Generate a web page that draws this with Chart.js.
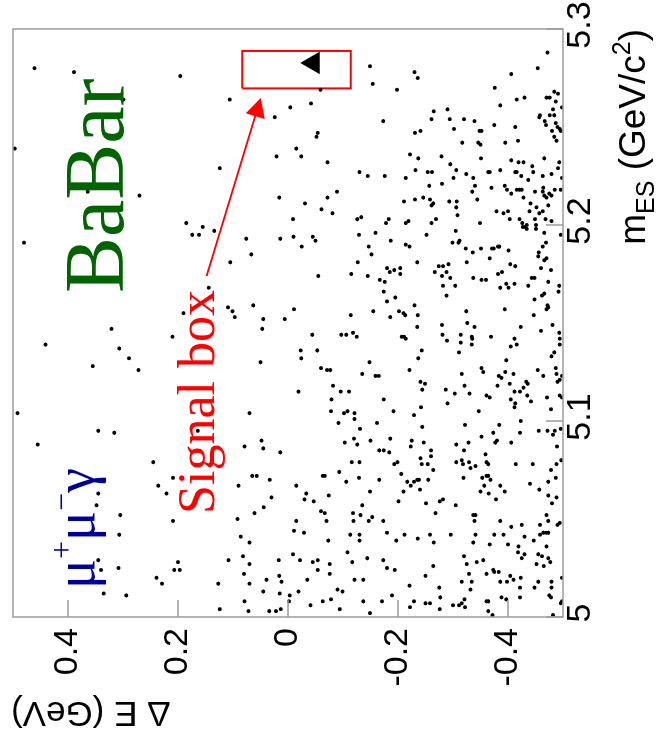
<!DOCTYPE html>
<html>
<head>
<meta charset="utf-8">
<script src="https://cdn.jsdelivr.net/npm/chart.js@4.4.0/dist/chart.umd.min.js"></script>
<style>
  html, body { margin: 0; padding: 0; background: #fff; }
  #page { position: relative; width: 663px; height: 740px; overflow: hidden; background: #fff; }
  /* the plot is drawn upright (m_ES along x) and then turned a quarter left, like the paper figure */
  #turn { position: absolute; left: 0; top: 0; width: 740px; height: 663px;
          transform-origin: 0 0; transform: translate(0, 740px) rotate(-90deg); }
</style>
</head>
<body>
<div id="page"><div id="turn"><canvas id="plot" width="740" height="663"></canvas></div></div>
<script>
// axis ticks
const mesTicks = [5, 5.1, 5.2, 5.3];
const mesLabels = ['5', '5.1', '5.2', '5.3'];
const dETicks = [-0.4, -0.2, 0, 0.2, 0.4];
const dELabels = ['-0.4', '-0.2', '0', '0.2', '0.4'];

// events [m_ES (GeV/c2), Delta E (GeV)]
const evTopLeft = [[5.280,0.461],[5.278,0.389],[5.276,0.196],[5.264,0.299],[5.239,0.497],[5.217,0.364],
  [5.215,0.270],[5.191,0.480],[5.201,0.185],[5.195,0.174],[5.195,0.162],[5.199,0.155]];
const evLowLeft = [[5.155,0.190],[5.147,0.321],[5.143,0.210],[5.139,0.441],[5.137,0.307],[5.132,0.289],
  [5.128,0.355],[5.126,0.272],[5.104,0.492],[5.095,0.345],[5.094,0.316],[5.095,0.164],[5.088,0.455],
  [5.079,0.245],[5.071,0.209],[5.067,0.236],[5.063,0.345],[5.063,0.221],[5.057,0.348],[5.052,0.305],
  [5.049,0.209],[5.042,0.307],[5.029,0.345],[5.024,0.340],[5.025,0.308],[5.028,0.200],[5.024,0.207],
  [5.024,0.197],[5.020,0.239],[5.017,0.229],[5.012,0.335],[5.011,0.294]];
const evTopMid = [[5.281,-0.149],[5.272,-0.154],[5.269,-0.059],[5.264,0.106],[5.260,-0.004],[5.262,-0.042],
  [5.255,0.024],[5.253,-0.173],[5.247,-0.054],[5.245,-0.052],[5.239,-0.015],[5.235,0.021],[5.235,-0.024]];
const evUpperMid = [[5.229,0.124],[5.232,-0.072],[5.227,-0.130],[5.225,-0.145],[5.225,-0.176],[5.214,0.016],
  [5.211,-0.031],[5.214,-0.072],[5.217,-0.089],[5.208,-0.061],[5.206,-0.081],[5.203,-0.009],[5.203,-0.126],
  [5.204,-0.133],[5.201,-0.178],[5.197,0.134],[5.193,0.076],[5.193,0.014],[5.194,-0.010],[5.194,-0.045],
  [5.192,-0.050],[5.189,-0.025],[5.195,-0.129],[5.196,-0.159],[5.189,-0.147],[5.185,-0.152],[5.185,0.067],
  [5.181,0.105],[5.181,-0.127],[5.178,-0.180],[5.175,-0.115],[5.174,-0.055],[5.174,-0.145],[5.172,-0.167],
  [5.171,-0.176],[5.166,-0.174],[5.168,0.144],[5.158,0.109],[5.156,0.101],[5.159,0.063],[5.157,-0.011],
  [5.156,-0.155],[5.161,-0.180]];
const evLowerMid = [[5.153,0.097],[5.152,0.045],[5.152,0.006],[5.147,0.047],[5.154,-0.114],[5.144,-0.044],
  [5.144,-0.097],[5.144,-0.106],[5.145,-0.118],[5.143,-0.125],[5.136,-0.023],[5.136,-0.053],[5.132,-0.024],
  [5.130,0.050],[5.130,-0.148],[5.124,-0.135],[5.123,-0.159],[5.123,-0.165],[5.127,-0.060],[5.126,-0.071],
  [5.126,-0.077],[5.118,-0.082],[5.115,-0.096],[5.115,-0.111],[5.115,-0.019],[5.111,-0.079],[5.111,-0.174],
  [5.104,0.070],[5.105,-0.078],[5.104,-0.102],[5.105,-0.108],[5.104,-0.121],[5.101,-0.121],[5.099,-0.092],
  [5.099,-0.162],[5.096,-0.131],[5.091,-0.120],[5.090,-0.150],[5.089,-0.103],[5.088,-0.126],[5.090,0.048],
  [5.086,0.045],[5.087,0.079],[5.084,0.014],[5.085,-0.166],[5.085,-0.174],[5.079,-0.116],[5.079,-0.130]];
const evBottomMid = [[5.072,0.065],[5.072,0.057],[5.070,0.033],[5.067,0.090],[5.067,-0.015],[5.072,-0.063],
  [5.072,-0.067],[5.074,-0.093],[5.069,-0.106],[5.071,-0.129],[5.070,-0.166],[5.064,-0.149],[5.063,-0.033],
  [5.060,-0.030],[5.062,-0.074],[5.059,-0.047],[5.061,0.030],[5.056,0.044],[5.053,0.061],[5.054,-0.060],
  [5.053,-0.067],[5.049,-0.070],[5.053,-0.118],[5.052,-0.132],[5.057,-0.135],[5.051,-0.153],[5.049,-0.147],
  [5.049,-0.119],[5.049,-0.173],[5.050,0.092],[5.049,-0.015],[5.044,-0.011],[5.043,-0.029],[5.041,0.086],
  [5.038,0.070],[5.042,-0.113],[5.042,-0.130],[5.039,-0.130],[5.043,-0.180],[5.039,-0.073],[5.033,-0.108],
  [5.032,-0.009],[5.029,-0.022],[5.028,-0.045],[5.029,-0.054],[5.024,-0.054],[5.027,-0.076],[5.028,-0.117],
  [5.030,-0.144],[5.029,-0.173],[5.025,-0.180],[5.029,0.108],[5.031,0.082],[5.027,0.070],[5.029,0.017],
  [5.022,0.080],[5.017,0.070],[5.017,0.127],[5.019,0.039],[5.021,0.016],[5.018,0.012],[5.019,-0.035],
  [5.022,-0.076],[5.019,-0.121],[5.019,-0.137],[5.013,0.045],[5.012,0.015],[5.011,-0.003],[5.013,-0.019],
  [5.014,-0.090],[5.013,-0.099],[5.008,0.079],[5.008,-0.002],[5.008,-0.063],[5.009,-0.078],[5.008,-0.137],
  [5.008,-0.171],[5.004,0.124],[5.003,0.072],[5.003,0.034],[5.003,0.022],[5.004,0.013],[5.006,-0.041],
  [5.004,-0.094],[5.002,-0.149]];
const evTopRight = [[5.288,-0.472],[5.280,-0.454],[5.277,-0.406],[5.278,-0.230],[5.275,-0.236],[5.269,-0.198],
  [5.270,-0.376],[5.265,-0.430],[5.264,-0.416],[5.261,-0.386],[5.265,-0.470],[5.265,-0.476],[5.268,-0.484],
  [5.267,-0.491],[5.263,-0.487],[5.260,-0.498],[5.259,-0.482],[5.256,-0.458],[5.255,-0.457],[5.256,-0.476],
  [5.256,-0.484],[5.253,-0.467],[5.251,-0.469],[5.252,-0.487],[5.250,-0.490],[5.249,-0.494],[5.248,-0.496],
  [5.248,-0.480],[5.245,-0.484],[5.243,-0.488],[5.258,-0.265],[5.259,-0.290],[5.254,-0.261],[5.254,-0.294],
  [5.254,-0.320],[5.253,-0.339],[5.249,-0.302],[5.248,-0.241],[5.247,-0.231],[5.248,-0.348],[5.248,-0.352],
  [5.251,-0.375],[5.250,-0.413],[5.242,-0.317],[5.242,-0.346],[5.241,-0.350],[5.242,-0.395],[5.243,-0.418],
  [5.236,-0.222],[5.234,-0.237],[5.235,-0.279],[5.234,-0.351],[5.234,-0.466]];
const evUpperRight = [[5.224,-0.214],[5.228,-0.232],[5.227,-0.254],[5.227,-0.262],[5.231,-0.295],[5.228,-0.306],
  [5.226,-0.324],[5.224,-0.301],[5.224,-0.337],[5.227,-0.364],[5.227,-0.367],[5.228,-0.386],[5.233,-0.406],
  [5.232,-0.419],[5.232,-0.428],[5.227,-0.413],[5.227,-0.416],[5.225,-0.424],[5.223,-0.437],[5.230,-0.444],
  [5.227,-0.446],[5.225,-0.463],[5.226,-0.479],[5.229,-0.491],[5.232,-0.493],[5.224,-0.498],[5.220,-0.257],
  [5.221,-0.280],[5.220,-0.340],[5.217,-0.335],[5.219,-0.370],[5.220,-0.394],[5.218,-0.398],[5.216,-0.406],
  [5.218,-0.416],[5.218,-0.421],[5.218,-0.425],[5.214,-0.428],[5.217,-0.449],[5.219,-0.464],[5.217,-0.463],
  [5.215,-0.466],[5.214,-0.470],[5.216,-0.475],[5.215,-0.479],[5.218,-0.485],[5.218,-0.496],[5.212,-0.211],
  [5.213,-0.231],[5.214,-0.246],[5.213,-0.258],[5.212,-0.293],[5.212,-0.307],[5.209,-0.306],[5.210,-0.261],
  [5.211,-0.264],[5.205,-0.308],[5.213,-0.344],[5.207,-0.379],[5.206,-0.392],[5.207,-0.400],[5.203,-0.403],
  [5.203,-0.421],[5.211,-0.441],[5.209,-0.452],[5.207,-0.463],[5.206,-0.457],[5.210,-0.473],[5.207,-0.439],
  [5.203,-0.449],[5.203,-0.468],[5.202,-0.479],[5.203,-0.183],[5.201,-0.214],[5.202,-0.219],[5.201,-0.261],
  [5.203,-0.269],[5.201,-0.349],[5.201,-0.426],[5.199,-0.431],[5.200,-0.434],[5.198,-0.434],[5.199,-0.427],
  [5.200,-0.451],[5.198,-0.451],[5.196,-0.466],[5.195,-0.496],[5.197,-0.305],[5.192,-0.187],[5.195,-0.252],
  [5.190,-0.214],[5.189,-0.221],[5.191,-0.299],[5.191,-0.310],[5.192,-0.312],[5.188,-0.323],[5.186,-0.336],
  [5.188,-0.351],[5.188,-0.371],[5.188,-0.374],[5.189,-0.382],[5.189,-0.384],[5.187,-0.401],[5.183,-0.367],
  [5.181,-0.325],[5.191,-0.469],[5.189,-0.463],[5.186,-0.456],[5.184,-0.455],[5.182,-0.466],[5.183,-0.470],
  [5.181,-0.235],[5.176,-0.185],[5.177,-0.193],[5.178,-0.204],[5.175,-0.204],[5.176,-0.267],[5.179,-0.274],
  [5.179,-0.282],[5.180,-0.292],[5.174,-0.280],[5.176,-0.288],[5.173,-0.295],[5.173,-0.337],[5.172,-0.352],
  [5.172,-0.360],[5.175,-0.382],[5.176,-0.389],[5.180,-0.404],[5.179,-0.413],[5.178,-0.460],[5.177,-0.478],
  [5.173,-0.443],[5.173,-0.448],[5.171,-0.473],[5.169,-0.493],[5.169,-0.282],[5.169,-0.304],[5.168,-0.386],
  [5.170,-0.397],[5.168,-0.401],[5.170,-0.412],[5.169,-0.437],[5.163,-0.195],[5.164,-0.288],[5.164,-0.462],
  [5.165,-0.466],[5.162,-0.448],[5.166,-0.492],[5.159,-0.472],[5.158,-0.473],[5.157,-0.470],[5.159,-0.230],
  [5.156,-0.202],[5.156,-0.324],[5.157,-0.394]];
const evLowerRight = [[5.153,-0.186],[5.155,-0.210],[5.154,-0.213],[5.154,-0.236],[5.148,-0.235],[5.143,-0.207],
  [5.143,-0.211],[5.142,-0.214],[5.149,-0.280],[5.144,-0.281],[5.141,-0.289],[5.144,-0.314],[5.140,-0.314],
  [5.150,-0.326],[5.148,-0.339],[5.143,-0.334],[5.142,-0.335],[5.139,-0.334],[5.143,-0.369],[5.135,-0.311],
  [5.136,-0.243],[5.132,-0.237],[5.126,-0.221],[5.120,-0.241],[5.119,-0.249],[5.116,-0.244],[5.105,-0.192],
  [5.103,-0.229],[5.107,-0.242],[5.097,-0.244],[5.116,-0.287],[5.114,-0.303],[5.109,-0.290],[5.124,-0.316],
  [5.118,-0.321],[5.114,-0.330],[5.105,-0.347],[5.127,-0.352],[5.125,-0.355],[5.113,-0.361],[5.112,-0.367],
  [5.118,-0.381],[5.123,-0.383],[5.122,-0.388],[5.125,-0.395],[5.131,-0.397],[5.119,-0.403],[5.124,-0.410],
  [5.111,-0.405],[5.115,-0.412],[5.109,-0.413],[5.107,-0.412],[5.115,-0.422],[5.117,-0.428],[5.120,-0.433],
  [5.119,-0.436],[5.113,-0.435],[5.110,-0.442],[5.148,-0.423],[5.142,-0.412],[5.139,-0.416],[5.138,-0.405],
  [5.154,-0.447],[5.146,-0.460],[5.149,-0.481],[5.145,-0.493],[5.142,-0.494],[5.139,-0.494],[5.135,-0.484],
  [5.133,-0.479],[5.126,-0.454],[5.123,-0.464],[5.127,-0.487],[5.124,-0.488],[5.123,-0.498],[5.121,-0.494],
  [5.120,-0.490],[5.112,-0.471],[5.113,-0.494],[5.112,-0.498],[5.106,-0.478],[5.098,-0.322],[5.098,-0.384],
  [5.100,-0.423],[5.094,-0.422],[5.095,-0.456],[5.095,-0.472],[5.095,-0.485],[5.093,-0.482],[5.096,-0.496],
  [5.092,-0.352],[5.094,-0.373],[5.089,-0.377],[5.090,-0.380],[5.089,-0.406],[5.089,-0.328],[5.088,-0.306],
  [5.085,-0.320],[5.091,-0.186],[5.090,-0.225],[5.087,-0.223],[5.089,-0.247],[5.085,-0.260],[5.082,-0.260],
  [5.081,-0.241],[5.078,-0.243],[5.078,-0.254],[5.084,-0.184],[5.079,-0.199],[5.078,-0.193],[5.079,-0.306],
  [5.080,-0.316],[5.078,-0.318],[5.079,-0.329],[5.083,-0.359],[5.079,-0.361],[5.078,-0.364],[5.087,-0.489],
  [5.080,-0.497],[5.078,-0.488],[5.078,-0.414],[5.078,-0.445]];
const evBottomRight = [[5.077,-0.341],[5.076,-0.332],[5.075,-0.478],[5.073,-0.206],[5.075,-0.264],[5.069,-0.217],
  [5.067,-0.223],[5.069,-0.229],[5.070,-0.235],[5.070,-0.238],[5.070,-0.255],[5.065,-0.240],[5.064,-0.210],
  [5.059,-0.201],[5.058,-0.251],[5.059,-0.276],[5.060,-0.282],[5.053,-0.268],[5.057,-0.305],[5.071,-0.319],
  [5.071,-0.353],[5.072,-0.361],[5.072,-0.364],[5.070,-0.368],[5.067,-0.357],[5.064,-0.350],[5.063,-0.365],
  [5.067,-0.386],[5.064,-0.394],[5.060,-0.378],[5.068,-0.440],[5.065,-0.457],[5.069,-0.473],[5.071,-0.487],
  [5.062,-0.473],[5.061,-0.488],[5.058,-0.480],[5.052,-0.337],[5.052,-0.341],[5.049,-0.339],[5.049,-0.386],
  [5.046,-0.406],[5.047,-0.425],[5.047,-0.458],[5.052,-0.470],[5.049,-0.473],[5.047,-0.490],[5.048,-0.494],
  [5.042,-0.212],[5.039,-0.197],[5.040,-0.236],[5.042,-0.258],[5.038,-0.265],[5.042,-0.296],[5.042,-0.341],
  [5.038,-0.337],[5.037,-0.367],[5.042,-0.375],[5.042,-0.392],[5.037,-0.400],[5.036,-0.419],[5.041,-0.430],
  [5.039,-0.447],[5.042,-0.458],[5.043,-0.464],[5.043,-0.469],[5.043,-0.473],[5.036,-0.470],[5.033,-0.418],
  [5.032,-0.430],[5.030,-0.425],[5.032,-0.455],[5.031,-0.462],[5.030,-0.473],[5.028,-0.477],[5.027,-0.452],
  [5.026,-0.465],[5.024,-0.194],[5.021,-0.250],[5.026,-0.264],[5.031,-0.320],[5.027,-0.325],[5.028,-0.343],
  [5.029,-0.355],[5.022,-0.329],[5.022,-0.361],[5.024,-0.373],[5.023,-0.375],[5.023,-0.383],[5.021,-0.404],
  [5.019,-0.410],[5.020,-0.423],[5.018,-0.398],[5.018,-0.386],[5.018,-0.316],[5.018,-0.334],[5.014,-0.332],
  [5.016,-0.221],[5.015,-0.275],[5.015,-0.448],[5.018,-0.455],[5.018,-0.479],[5.020,-0.498],[5.015,-0.422],
  [5.015,-0.479],[5.011,-0.189],[5.008,-0.229],[5.005,-0.222],[5.007,-0.250],[5.007,-0.258],[5.010,-0.277],
  [5.004,-0.276],[5.006,-0.300],[5.006,-0.311],[5.007,-0.316],[5.009,-0.321],[5.005,-0.322],[5.008,-0.361],
  [5.008,-0.364],[5.003,-0.364],[5.001,-0.372],[5.010,-0.388],[5.009,-0.397],[5.010,-0.422],[5.011,-0.475],
  [5.010,-0.478],[5.007,-0.496],[5.008,-0.498],[5.001,-0.482]];

// the one event inside the signal box, and the box itself (m_ES, Delta E corners)
const signalEvent = [[5.2827, -0.046]];
const boxMes = [5.2697, 5.2888, 5.2888, 5.2697, 5.2697];
const boxDE = [0.083, 0.083, -0.114, -0.114, 0.083];

// annotation anchors in data units
const arrowFrom = [5.174, 0.148];
const arrowTo = [5.2648, 0.0495];
const babarAt = [5.1653, 0.300];
const signalTextAt = [5.0526, 0.135];
const channelAt = [5.0143, 0.352];

const allEvents = [].concat(evTopLeft, evLowLeft, evTopMid, evUpperMid, evLowerMid, evBottomMid,
  evTopRight, evUpperRight, evLowerRight, evBottomRight);

const SANS = "'Liberation Sans', Arial, sans-serif";
const SERIF = "'Liberation Serif', 'Times New Roman', serif";

// write a run of [text, size, rise] pieces from a left baseline point
function drawPieces(ctx, pieces, family, x, y) {
  let cx = x;
  pieces.forEach(([t, size, rise]) => {
    ctx.font = size + 'px ' + family;
    ctx.fillText(t, cx, y + rise);
    cx += ctx.measureText(t).width;
  });
  return cx;
}
function piecesWidth(ctx, pieces, family) {
  let w = 0;
  pieces.forEach(([t, size]) => { ctx.font = size + 'px ' + family; w += ctx.measureText(t).width; });
  return w;
}

const rootLook = {
  id: 'rootLook',
  afterDatasetsDraw(chart) {
    const { ctx, scales: { x, y } } = chart;
    ctx.save();
    // arrow to the signal box
    const x0 = x.getPixelForValue(arrowFrom[0]), y0 = y.getPixelForValue(arrowFrom[1]);
    const x1 = x.getPixelForValue(arrowTo[0]), y1 = y.getPixelForValue(arrowTo[1]);
    const a = Math.atan2(y1 - y0, x1 - x0), c = Math.cos(a), s = Math.sin(a);
    ctx.strokeStyle = '#ff0000';
    ctx.fillStyle = '#ff0000';
    ctx.lineWidth = 2;
    ctx.beginPath();
    ctx.moveTo(x0, y0);
    ctx.lineTo(x1 - 15 * c, y1 - 15 * s);
    ctx.stroke();
    ctx.beginPath();
    ctx.moveTo(x1, y1);
    ctx.lineTo(x1 - 19 * c + 10 * s, y1 - 19 * s - 10 * c);
    ctx.lineTo(x1 - 19 * c - 10 * s, y1 - 19 * s + 10 * c);
    ctx.closePath();
    ctx.fill();

    ctx.textAlign = 'left';
    ctx.textBaseline = 'alphabetic';
    ctx.font = '52px ' + SERIF;
    ctx.fillText('Signal box', x.getPixelForValue(signalTextAt[0]), y.getPixelForValue(signalTextAt[1]));

    ctx.fillStyle = '#006400';
    ctx.font = '84px ' + SERIF;
    ctx.fillText('BaBar', x.getPixelForValue(babarAt[0]), y.getPixelForValue(babarAt[1]));

    ctx.fillStyle = '#000099';
    drawPieces(ctx, [['μ', 56, 0], ['+', 32, -22], ['μ', 56, 0], ['−', 32, -22], ['γ', 56, 0]], SERIF,
      x.getPixelForValue(channelAt[0]), y.getPixelForValue(channelAt[1]));
    ctx.restore();
  },
  afterDraw(chart) {
    const { ctx, chartArea: area, scales: { x, y } } = chart;
    ctx.save();
    // frame and inward ticks
    ctx.strokeStyle = '#9c9c9c';
    ctx.lineWidth = 1.5;
    ctx.strokeRect(area.left, area.top, area.right - area.left, area.bottom - area.top);
    ctx.beginPath();
    mesTicks.forEach(v => {
      const px = x.getPixelForValue(v);
      ctx.moveTo(px, area.bottom);
      ctx.lineTo(px, area.bottom - 17);
    });
    dETicks.forEach(v => {
      const py = y.getPixelForValue(v);
      ctx.moveTo(area.left, py);
      ctx.lineTo(area.left + 17, py);
    });
    ctx.stroke();

    // axis titles
    ctx.fillStyle = '#000';
    ctx.textBaseline = 'alphabetic';
    ctx.textAlign = 'left';
    const xt = [['m', 37, 0], ['ES', 25, 9], [' (GeV/c', 37, 0], ['2', 25, -15], [')', 37, 0]];
    drawPieces(ctx, xt, SANS, area.right - piecesWidth(ctx, xt, SANS), 645);

    ctx.translate(38, area.top - 2);
    ctx.rotate(-Math.PI / 2);
    ctx.textAlign = 'right';
    ctx.font = '35px ' + SANS;
    ctx.fillText('Δ E (GeV)', 0, 0);
    ctx.restore();
  }
};

new Chart(document.getElementById('plot'), {
  type: 'scatter',
  data: {
    datasets: [
      {
        data: allEvents.map(([m, e]) => ({ x: m, y: e })),
        pointRadius: 2,
        pointBorderWidth: 0,
        backgroundColor: '#000'
      },
      {
        data: boxMes.map((m, i) => ({ x: m, y: boxDE[i] })),
        showLine: true,
        pointRadius: 0,
        borderColor: '#ff0000',
        borderWidth: 2,
        fill: false
      },
      {
        data: signalEvent.map(([m, e]) => ({ x: m, y: e })),
        pointStyle: 'triangle',
        pointRadius: 13,
        pointBorderWidth: 0,
        backgroundColor: '#000'
      }
    ]
  },
  options: {
    responsive: false,
    animation: false,
    devicePixelRatio: 1,
    layout: { padding: { top: 6, right: 29, bottom: 0, left: 0 } },
    plugins: { legend: { display: false }, tooltip: { enabled: false } },
    scales: {
      x: {
        type: 'linear', min: 5, max: 5.3,
        grid: { display: false, drawTicks: false, tickLength: 0 },
        border: { display: false },
        afterBuildTicks: s => { s.ticks = mesTicks.map(v => ({ value: v })); },
        afterFit: s => { s.height = 100; s.paddingLeft = 0; s.paddingRight = 0; },
        ticks: {
          callback: (v, i) => mesLabels[i],
          font: { family: SANS, size: 34 }, color: '#000',
          padding: -3, labelOffset: 4, maxRotation: 0, autoSkip: false
        }
      },
      y: {
        type: 'linear', min: -0.5, max: 0.5,
        grid: { display: false, drawTicks: false, tickLength: 0 },
        border: { display: false },
        afterBuildTicks: s => { s.ticks = dETicks.map(v => ({ value: v })); },
        afterFit: s => { s.width = 123; s.paddingTop = 0; s.paddingBottom = 0; },
        ticks: {
          callback: (v, i) => dELabels[i],
          font: { family: SANS, size: 34 }, color: '#000',
          padding: 11, autoSkip: false
        }
      }
    }
  },
  plugins: [rootLook]
});
</script>
</body>
</html>
